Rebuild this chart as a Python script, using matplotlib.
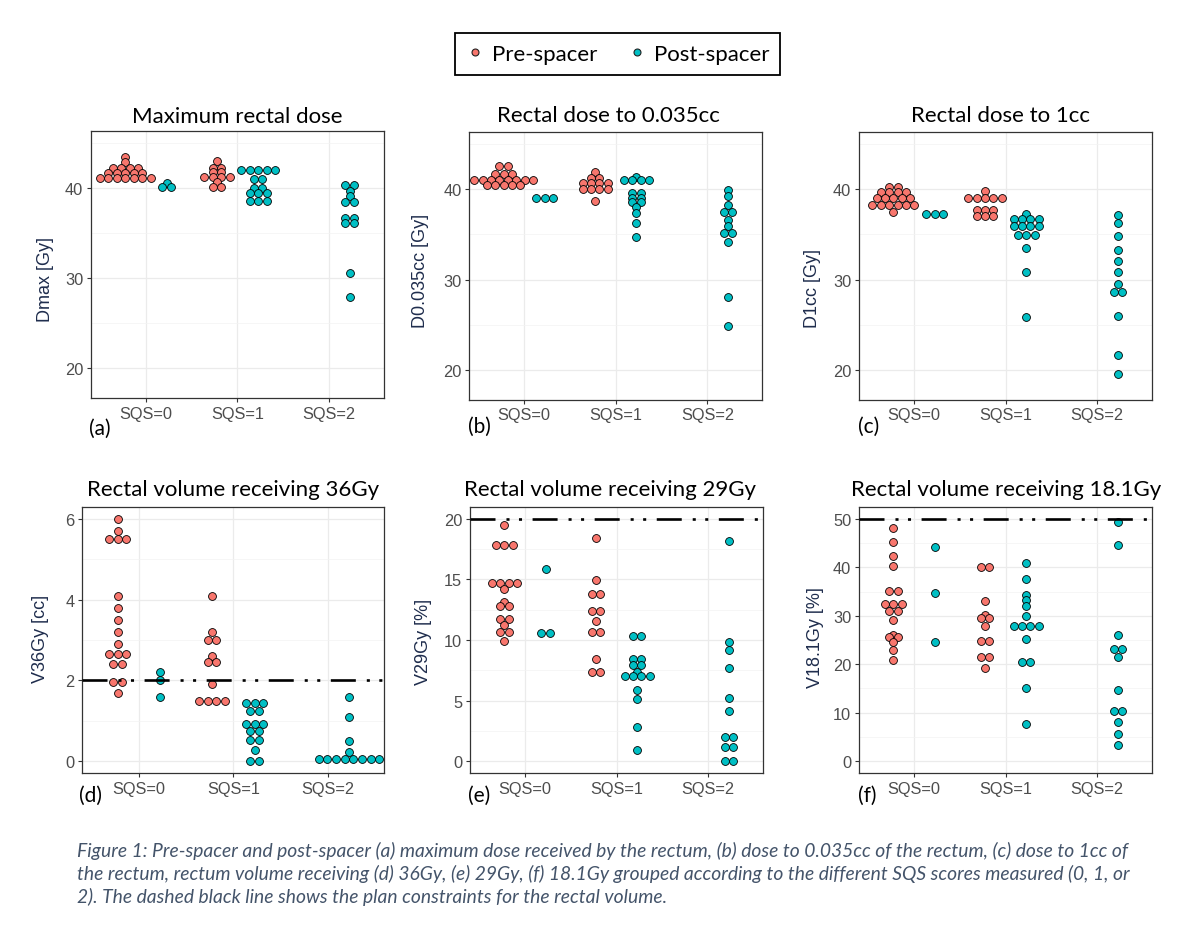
import numpy as np
import matplotlib
matplotlib.use("Agg")
import matplotlib.pyplot as plt
from matplotlib.lines import Line2D
from matplotlib.ticker import FixedLocator

plt.rcParams["font.family"] = ["Liberation Sans", "DejaVu Sans"]
plt.rcParams["lines.scale_dashes"] = False

W, H = 1188, 928

categories = ["SQS=0", "SQS=1", "SQS=2"]
group_names = ["Pre-spacer", "Post-spacer"]
PRE_COLOR = "#F8766D"
POST_COLOR = "#00BFC4"

# ---------------- data (one list per SQS group) ----------------
# (a) Dmax [Gy]
dmax_pre = [
    [43.5, 42.9, 42.25, 42.25, 42.25, 42.25, 41.75, 41.75, 41.75, 41.75, 41.75,
     41.2, 41.2, 41.2, 41.2, 41.2, 41.2, 41.2],
    [43.0, 42.3, 42.3, 41.8, 41.8, 41.3, 41.3, 41.3, 41.3, 40.7, 40.2, 40.2],
    [],
]
dmax_post = [
    [40.6, 40.1, 40.1],
    [42.1, 42.1, 42.1, 42.1, 42.1, 41.0, 41.0, 40.0, 40.0, 39.45, 39.45, 39.45,
     38.55, 38.55, 38.55],
    [40.4, 40.4, 39.7, 39.1, 38.45, 38.45, 36.7, 36.7, 36.15, 36.15, 30.6, 27.9],
]
# (b) D0.035cc [Gy]
d0035_pre = [
    [42.6, 42.6, 41.7, 41.7, 41.7, 41.0, 41.0, 41.0, 41.0, 41.0, 41.0, 41.0, 41.0,
     40.5, 40.5, 40.5, 40.5, 40.5],
    [41.9, 41.3, 41.3, 40.75, 40.75, 40.75, 40.75, 40.05, 40.05, 40.05, 40.05, 38.75],
    [],
]
d0035_post = [
    [39.1, 39.1, 39.1],
    [41.4, 41.0, 41.0, 41.0, 41.0, 39.6, 39.6, 39.1, 39.1, 38.6, 38.6, 38.1, 37.4,
     36.3, 34.7],
    [39.95, 39.3, 38.3, 37.45, 37.45, 36.65, 35.9, 35.15, 35.15, 34.15, 28.1, 24.85],
]
# (c) D1cc [Gy]
d1cc_pre = [
    [40.3, 40.3, 39.7, 39.7, 39.7, 39.7, 39.0, 39.0, 39.0, 39.0, 39.0,
     38.3, 38.3, 38.3, 38.3, 38.3, 38.3, 37.5],
    [39.8, 39.0, 39.0, 39.0, 39.0, 39.0, 37.75, 37.75, 37.75, 37.0, 37.0, 37.0],
    [],
]
d1cc_post = [
    [37.3, 37.3, 37.3],
    [37.3, 36.7, 36.7, 36.7, 36.7, 35.9, 35.9, 35.9, 35.9, 34.9, 34.9, 34.9, 33.5,
     30.8, 25.8],
    [37.15, 36.3, 34.8, 33.3, 32.05, 30.8, 29.45, 28.65, 28.65, 25.9, 21.6, 19.55],
]
# (d) V36Gy [cc]
v36_pre = [
    [6.0, 5.7, 5.5, 5.5, 5.5, 4.1, 3.8, 3.5, 3.2, 2.9, 2.65, 2.65, 2.65, 2.4, 2.4,
     1.95, 1.95, 1.7],
    [4.1, 3.2, 3.0, 3.0, 2.6, 2.45, 2.45, 1.9, 1.5, 1.5, 1.5, 1.5],
    [],
]
v36_post = [
    [2.2, 2.0, 1.6],
    [1.45, 1.45, 1.45, 1.25, 1.25, 0.92, 0.92, 0.92, 0.75, 0.75, 0.53, 0.53, 0.28,
     0.0, 0.0],
    [1.6, 1.1, 0.5, 0.22, 0.06, 0.06, 0.06, 0.06, 0.06, 0.06, 0.06, 0.06],
]
# (e) V29Gy [%]
v29_pre = [
    [19.5, 17.8, 17.8, 17.8, 14.7, 14.7, 14.7, 14.7, 14.2, 13.15, 12.8, 12.8,
     11.75, 11.75, 11.25, 10.7, 10.7, 9.9],
    [18.45, 14.95, 13.8, 13.8, 12.4, 12.4, 11.6, 10.7, 10.7, 8.4, 7.35, 7.35],
    [],
]
v29_post = [
    [15.9, 10.6, 10.6],
    [10.35, 10.35, 8.4, 8.4, 7.95, 7.95, 7.35, 7.05, 7.05, 7.05, 7.05, 5.9, 5.1,
     2.85, 0.95],
    [18.2, 9.8, 9.2, 7.65, 5.2, 4.1, 2.0, 2.0, 1.15, 1.15, 0.0, 0.0],
]
# (f) V18.1Gy [%]
v181_pre = [
    [48.2, 45.3, 42.3, 40.2, 35.1, 35.1, 32.5, 32.5, 32.5, 31.0, 31.0, 29.2, 26.1,
     25.6, 25.6, 24.5, 23.0, 20.9],
    [40.0, 40.0, 33.0, 30.2, 29.5, 29.5, 27.9, 24.8, 24.8, 21.4, 21.4, 19.3],
    [],
]
v181_post = [
    [44.2, 34.7, 24.6],
    [40.9, 37.5, 34.2, 33.2, 32.1, 29.9, 27.8, 27.8, 27.8, 27.8, 25.3, 20.4, 20.4,
     15.1, 7.7],
    [49.3, 44.6, 26.1, 23.1, 23.1, 21.4, 14.6, 10.4, 10.4, 8.0, 5.6, 3.3],
]

panel_titles = ["Maximum rectal dose", "Rectal dose to 0.035cc", "Rectal dose to 1cc",
                "Rectal volume receiving 36Gy", "Rectal volume receiving 29Gy",
                "Rectal volume receiving 18.1Gy"]
panel_ylabels = ["Dmax [Gy]", "D0.035cc [Gy]", "D1cc [Gy]",
                 "V36Gy [cc]", "V29Gy [%]", "V18.1Gy [%]"]
panel_letters = ["(a)", "(b)", "(c)", "(d)", "(e)", "(f)"]
constraints = [None, None, None, 2, 20, 50]

caption_lines = [
    "Figure 1: Pre-spacer and post-spacer (a) maximum dose received by the rectum, (b) dose to 0.035cc of the rectum, (c) dose to 1cc of",
    "the rectum, rectum volume receiving (d) 36Gy, (e) 29Gy, (f) 18.1Gy grouped according to the different SQS scores measured (0, 1, or",
    "2). The dashed black line shows the plan constraints for the rectal volume.",
]

# ---------------- layout / style ----------------
boxes = [(91, 132.3, 384, 399.3), (469.3, 133.3, 762.3, 400.7), (859, 133.3, 1152.3, 400.7),
         (82.3, 507.7, 384.3, 774.3), (470, 507.7, 763.3, 774.3), (859, 507.7, 1152.3, 774.3)]
ylims = [(16.65, 46.35)] * 3 + [(-0.3, 6.3), (-1, 21), (-2.5, 52.5)]
yticks = [[20, 30, 40]] * 3 + [[0, 2, 4, 6], [0, 5, 10, 15, 20], [0, 10, 20, 30, 40, 50]]
yminor = [[25, 35, 45]] * 3 + [[1, 3, 5], [2.5, 7.5, 12.5, 17.5], [5, 15, 25, 35, 45]]
title_x = [0.5, 0.475, 0.484, 0.5, 0.479, 0.5]
title_pad = [6.5, 8, 8, 8.4, 8.4, 8.4]
ylab_pos = [(-0.154, 0.447), (-0.168, 0.487), (-0.157, 0.418),
            (-0.140, 0.507), (-0.157, 0.497), (-0.150, 0.513)]
letter_pos = [(89, 429), (468, 427), (858, 427), (79, 796), (468, 796), (858, 796)]

DODGE = 0.225
DOT = 0.092
YLAB_COLOR = "#1F2D4D"
TICK_COLOR = "#4D4D4D"
TITLE_FONT = ["Lato", "DejaVu Sans"]


def dot_offsets(values, d):
    vals = np.asarray(values, dtype=float)
    offs = np.zeros(len(vals))
    for v in np.unique(vals):
        idx = np.where(vals == v)[0]
        n = len(idx)
        offs[idx] = (np.arange(n) - (n - 1) / 2.0) * d
    return offs


fig = plt.figure(figsize=(W / 100, H / 100), dpi=100)
fig.patch.set_facecolor("white")

datasets = [(dmax_pre, dmax_post), (d0035_pre, d0035_post), (d1cc_pre, d1cc_post),
            (v36_pre, v36_post), (v29_pre, v29_post), (v181_pre, v181_post)]

for i, (pre, post) in enumerate(datasets):
    l, t, r, b = boxes[i]
    ax = fig.add_axes([l / W, 1 - b / H, (r - l) / W, (b - t) / H])
    for ci in range(3):
        for vals, shift, color in ((pre[ci], -DODGE, PRE_COLOR), (post[ci], DODGE, POST_COLOR)):
            if len(vals) == 0:
                continue
            offs = dot_offsets(vals, DOT)
            ax.scatter(ci + 1 + shift + offs, vals, s=32, c=color, edgecolors="black",
                       linewidths=0.6, zorder=3)
    if constraints[i] is not None:
        ln = ax.axhline(constraints[i], color="black", lw=1.9, zorder=4,
                        solid_capstyle="butt", dash_capstyle="butt")
        ln.set_dashes([18, 7.9, 2.2, 6.8, 2.2, 7.6])
    ax.set_xlim(0.4, 3.6)
    ax.set_ylim(*ylims[i])
    ax.set_xticks([1, 2, 3])
    ax.set_xticklabels(categories)
    ax.set_yticks(yticks[i])
    ax.yaxis.set_minor_locator(FixedLocator(yminor[i]))
    ax.set_axisbelow(True)
    ax.grid(which="major", color="#EBEBEB", lw=0.9)
    ax.grid(which="minor", axis="y", color="#F3F3F3", lw=0.5)
    ax.tick_params(axis="both", which="major", length=3, width=0.8, color="#333333",
                   labelsize=11.8, labelcolor=TICK_COLOR, pad=2.5)
    ax.tick_params(axis="both", which="minor", length=0)
    for sp in ax.spines.values():
        sp.set_color("#333333")
        sp.set_linewidth(0.9)
    ax.set_title(panel_titles[i], fontsize=16, family=TITLE_FONT, color="black",
                 x=title_x[i], pad=title_pad[i])
    ax.set_ylabel(panel_ylabels[i], fontsize=13, color=YLAB_COLOR)
    ax.yaxis.set_label_coords(*ylab_pos[i])
    ax.yaxis.label.set_va("center")
    lx, ly = letter_pos[i]
    fig.text(lx / W, 1 - ly / H, panel_letters[i], ha="left", va="center",
             fontsize=15, family=TITLE_FONT, color="black")

handles = [Line2D([], [], marker="o", ls="none", markerfacecolor=PRE_COLOR,
                  markeredgecolor="#222222", markersize=5, markeredgewidth=0.8),
           Line2D([], [], marker="o", ls="none", markerfacecolor=POST_COLOR,
                  markeredgecolor="#222222", markersize=5, markeredgewidth=0.8)]
leg = fig.legend(handles, group_names, loc="center", bbox_to_anchor=(617.5 / W, 1 - 55 / H),
                 ncol=2, frameon=True, fancybox=False, edgecolor="black", framealpha=1,
                 prop={"family": TITLE_FONT, "size": 16}, borderpad=0.5,
                 handlelength=0.8, handletextpad=0.35, columnspacing=1.4)
leg.get_frame().set_linewidth(1.3)

for k, line in enumerate(caption_lines):
    fig.text(77 / W, 1 - (857.5 + 22.7 * k) / H, line, ha="left", va="baseline",
             fontsize=13.85, style="italic", family=TITLE_FONT, color="#44546A")

fig.savefig("out.png", dpi=100, facecolor="white")
